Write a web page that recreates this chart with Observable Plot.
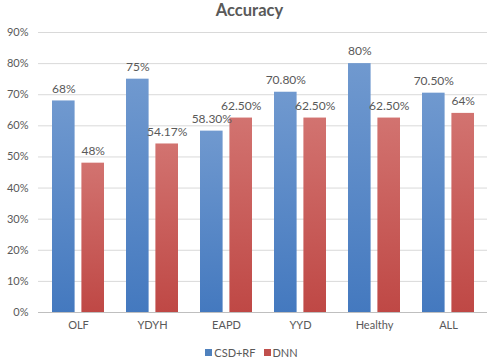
<!DOCTYPE html>
<html><head><meta charset="utf-8">
<script src="https://cdn.jsdelivr.net/npm/d3@7"></script>
<script src="https://cdn.jsdelivr.net/npm/@observablehq/plot@0.6"></script>
<style>
body{margin:0;background:#fff;font-family:Lato,sans-serif;}
#wrap{width:495px;height:361px;position:relative;overflow:hidden;}
#title{position:absolute;top:0;left:0;width:495px;height:22px;line-height:normal;text-align:center;font-weight:bold;font-size:16.5px;color:#595959;padding-left:4px;box-sizing:border-box;}
#chart{padding-top:19px;}
#legend{display:flex;justify-content:center;align-items:center;font-size:11px;color:#595959;height:14px;padding-left:8px;}
#legend span.sw{display:inline-block;width:7px;height:7px;margin-right:2px;}
#legend span.item{display:inline-flex;align-items:center;margin:0 4px;}
</style></head><body>
<div id="wrap">
<div id="title">Accuracy</div>
<div id="chart"></div>
<div id="legend"></div>
</div>
<script>
const categories = ["OLF","YDYH","EAPD","YYD","Healthy","ALL"];
const seriesNames = ["CSD+RF","DNN"];
const csdrfValues = [68,75,58.3,70.8,80,70.5];
const dnnValues = [48,54.17,62.5,62.5,62.5,64];
const csdrfLabels = ["68%","75%","58.30%","70.80%","80%","70.50%"];
const dnnLabels = ["48%","54.17%","62.50%","62.50%","62.50%","64%"];
const yTicks = [0,10,20,30,40,50,60,70,80,90];
const legendColors = ["#4f81bd","#c0504d"];

const blueData = categories.map((c,i)=>({cat:c, value:csdrfValues[i], label:csdrfLabels[i]}));
const redData = categories.map((c,i)=>({cat:c, value:dnnValues[i], label:dnnLabels[i]}));

const defs = () => {
  const d = d3.create("svg:defs");
  const g1 = d.append("linearGradient").attr("id","gB").attr("x1",0).attr("y1",0).attr("x2",0).attr("y2",1);
  g1.append("stop").attr("offset","0%").attr("stop-color","#7099cf");
  g1.append("stop").attr("offset","100%").attr("stop-color","#4479bf");
  const g2 = d.append("linearGradient").attr("id","gR").attr("x1",0).attr("y1",0).attr("x2",0).attr("y2",1);
  g2.append("stop").attr("offset","0%").attr("stop-color","#d27370");
  g2.append("stop").attr("offset","100%").attr("stop-color","#bf4845");
  return d.node();
};

const chart = Plot.plot({
  width: 495,
  height: 326,
  marginTop: 13,
  marginBottom: 33,
  marginLeft: 38,
  marginRight: 8,
  style: {fontFamily: "Lato, sans-serif", fontSize: "11px", color: "#595959", background: "#fff"},
  x: {domain: categories, paddingInner: 0.3, paddingOuter: 0.15, label: null, tickSize: 0, tickPadding: 9},
  y: {domain: [0, 90], ticks: yTicks, tickFormat: d => d + "%", label: null, tickSize: 0, tickPadding: 10},
  marks: [
    defs,
    Plot.ruleY(yTicks.filter(t => t > 0), {stroke: "#d9d9d9"}),
    Plot.barY(blueData, {x: "cat", y: "value", fill: "url(#gB)", insetRight: 29.4}),
    Plot.barY(redData, {x: "cat", y: "value", fill: "url(#gR)", insetLeft: 29.4}),
    Plot.ruleY([0], {stroke: "#bfbfbf"}),
    Plot.text(blueData, {x: "cat", y: "value", text: "label", dx: -14.7, dy: -12, fill: "#595959", fontSize: 12}),
    Plot.text(redData, {x: "cat", y: "value", text: "label", dx: 14.7, dy: -12, fill: "#595959", fontSize: 12})
  ]
});
document.getElementById("chart").appendChild(chart);

const lg = d3.select("#legend");
seriesNames.forEach((s,i) => {
  const it = lg.append("span").attr("class","item");
  it.append("span").attr("class","sw").style("background", legendColors[i]);
  it.append("span").text(s);
});
</script>
</body></html>
